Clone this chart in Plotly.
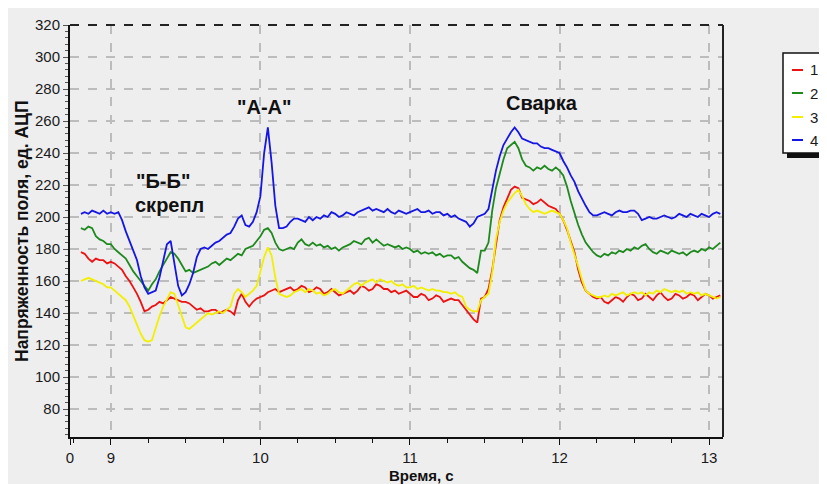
import plotly.graph_objects as go

# ---------------- data (0.025 s apart, 8.800 .. 13.075 s) ----------------
series_names = ["1", "2", "3", "4"]

s1_red = [
    178, 177, 174, 172, 174, 173, 173, 171,
    172, 171, 169, 167, 163, 160, 156, 152,
    147, 141, 142, 144, 145, 147, 146, 148,
    150, 149, 148, 147, 147, 146, 144, 142,
    143, 141, 141, 142, 142, 140, 141, 142,
    141, 139, 148, 152, 147, 144, 147, 149,
    150, 151, 153, 154, 155, 153, 154, 155,
    156, 154, 155, 157, 156, 153, 154, 156,
    155, 152, 153, 155, 153, 151, 152, 153,
    154, 152, 154, 157, 156, 154, 155, 158,
    157, 155, 155, 153, 154, 152, 153, 154,
    152, 150, 150, 152, 151, 148, 149, 151,
    150, 147, 148, 149, 148, 148, 145, 142,
    139, 136, 134, 149, 150, 155, 167, 184,
    198, 206, 212, 217, 219, 218, 212, 211,
    210, 208, 209, 211, 209, 207, 206, 205,
    202, 198, 192, 185, 178, 167, 159, 154,
    152, 150, 149, 150, 147, 146, 148, 150,
    149, 147, 150, 152, 151, 148, 149, 152,
    150, 148, 151, 153, 150, 148, 149, 152,
    151, 149, 150, 152, 151, 148, 150, 152,
    151, 149, 150, 151]

s2_green = [
    193, 192, 194, 193, 188, 186, 185, 183,
    183, 180, 178, 176, 174, 170, 166, 163,
    160, 157, 154, 158, 161, 166, 170, 174,
    178, 177, 174, 170, 166, 167, 165, 166,
    167, 168, 169, 171, 172, 170, 172, 174,
    173, 175, 177, 176, 180, 181, 182, 185,
    188, 192, 193, 190, 184, 180, 179, 180,
    181, 180, 184, 186, 183, 182, 184, 182,
    183, 181, 182, 180, 181, 179, 181, 182,
    183, 185, 184, 183, 186, 187, 184, 186,
    184, 182, 183, 182, 181, 182, 180, 181,
    180, 178, 179, 177, 178, 177, 178, 176,
    177, 175, 176, 176, 174, 175, 172, 170,
    168, 167, 165, 179, 179, 184, 204, 218,
    227, 236, 243, 245, 247, 243, 236, 232,
    231, 229, 231, 230, 232, 230, 229, 231,
    229, 226, 219, 210, 202, 195, 189, 184,
    181, 178, 176, 175, 177, 176, 178, 177,
    179, 178, 180, 179, 181, 180, 182, 183,
    180, 178, 177, 179, 178, 177, 179, 178,
    177, 178, 176, 178, 179, 178, 180, 179,
    181, 180, 182, 184]

s3_yellow = [
    160, 161, 162, 161, 160, 159, 158, 156,
    156, 154, 152, 150, 148, 144, 138, 133,
    127, 123, 122, 123, 131, 138, 144, 149,
    153, 152, 145, 138, 131, 130, 132, 134,
    136, 138, 140, 139, 140, 141, 140, 142,
    144, 152, 155, 153, 150, 152, 154, 157,
    166, 175, 181, 176, 162, 152, 151, 150,
    151, 153, 154, 155, 153, 155, 154, 152,
    153, 151, 152, 154, 155, 153, 152, 154,
    156, 158, 159, 157, 159, 160, 161, 159,
    161, 160, 159, 160, 158, 157, 158, 156,
    156, 157, 155, 156, 155, 154, 155, 154,
    154, 153, 153, 152, 153, 151, 150, 144,
    142, 141, 141, 148, 150, 152, 165, 186,
    197, 204, 209, 212, 215, 217, 213, 208,
    205, 203, 204, 203, 202, 203, 204, 203,
    202, 198, 193, 184, 177, 169, 161, 154,
    152, 151, 150, 150, 151, 150, 152, 151,
    152, 153, 151, 152, 153, 152, 153, 151,
    153, 152, 154, 153, 155, 154, 153, 154,
    153, 154, 152, 153, 152, 153, 151, 152,
    151, 150, 149, 150]

s4_blue = [
    202, 203, 202, 204, 203, 202, 204, 202,
    203, 202, 203, 198, 191, 185, 180, 173,
    163, 156, 152, 153, 154, 162, 172, 183,
    185, 170, 157, 151, 153, 158, 165, 175,
    180, 181, 180, 182, 184, 185, 187, 189,
    190, 194, 199, 201, 195, 194, 197, 203,
    213, 240, 256, 234, 207, 193, 193, 194,
    197, 199, 199, 198, 197, 200, 198, 200,
    199, 201, 200, 203, 202, 200, 201, 203,
    202, 201, 203, 204, 205, 206, 204, 205,
    204, 203, 205, 203, 202, 204, 203, 202,
    203, 204, 205, 203, 203, 204, 202, 203,
    203, 201, 202, 200, 201, 199, 198, 197,
    194, 196, 200, 201, 202, 205, 217, 229,
    238, 245, 249, 253, 256, 253, 249, 248,
    247, 246, 246, 244, 243, 243, 242, 241,
    240, 235, 231, 226, 222, 216, 211, 207,
    203, 201, 201, 202, 203, 202, 201, 203,
    204, 203, 203, 204, 204, 202, 198, 199,
    200, 199, 199, 200, 201, 200, 199, 200,
    202, 201, 200, 202, 201, 200, 202, 201,
    200, 202, 203, 202]

t_start, t_step = 8.8, 0.025
time_s = [round(t_start + t_step * i, 3) for i in range(len(s1_red))]

x_tick_vals = [8.727, 9, 10, 11, 12, 13]
x_tick_text = ["0", "9", "10", "11", "12", "13"]
y_tick_vals = [80, 100, 120, 140, 160, 180, 200, 220, 240, 260, 280, 300, 320]

x_title = "Время, с"
y_title = "Напряженность поля, ед. АЦП"
labels = [('"Б-Б"', 9.35, 181), ("скрепл", 9.39, 205), ('"А-А"', 10.03, 107), ("Сварка", 11.88, 103)]

# ---------------- figure ----------------
OFF = 8  # page body margin offset
W, H = 827 - OFF, 484 - OFF
L, R, T, B = 70 - OFF, 723 - OFF, 25 - OFF, 437 - OFF
FONT = "Arial, Liberation Sans, sans-serif"

def px_x(p):
    return (p - OFF - L) / (R - L)

def px_y(p):
    return (B - (p - OFF)) / (B - T)

colors = ["#ee1111", "#1e8a1e", "#f2ef00", "#1515e6"]
all_series = [s1_red, s2_green, s3_yellow, s4_blue]

fig = go.Figure()
for name, vals, col in zip(series_names, all_series, colors):
    fig.add_trace(go.Scatter(x=time_s[:len(vals)], y=vals, mode="lines", name=name,
                             line=dict(color=col, width=1.8), showlegend=False))

fig.update_layout(
    width=W, height=H,
    margin=dict(l=L, r=W - R, t=T, b=H - B),
    paper_bgcolor="#eeeeee", plot_bgcolor="#eeeeee",
    font=dict(family=FONT, size=15, color="#1a1a1a"),
)
fig.update_xaxes(range=[8.727, 13.093], tickvals=x_tick_vals, ticktext=x_tick_text,
                 showline=True, linecolor="#111", linewidth=2,
                 ticks="outside", ticklen=6, tickcolor="#111", tickwidth=1,
                 minor=dict(dtick=0.25, tick0=9, ticks="outside", ticklen=4, tickcolor="#111", showgrid=False),
                 showgrid=True, gridcolor="#bcbcbc", gridwidth=1.5, griddash="dash",
                 zeroline=False, tickfont=dict(size=15), automargin=False)
fig.update_yaxes(range=[62.5, 320], tickvals=y_tick_vals,
                 showline=True, linecolor="#111", linewidth=2,
                 ticks="outside", ticklen=5, tickcolor="#555", tickwidth=1,
                 minor=dict(dtick=4, tick0=80, ticks="outside", ticklen=3, tickcolor="#555", showgrid=False),
                 showgrid=True, gridcolor="#bcbcbc", gridwidth=1.5, griddash="dash",
                 zeroline=False, tickfont=dict(size=15), automargin=False)

shapes = [
    dict(type="line", xref="paper", yref="paper", x0=0, x1=1, y0=1, y1=1,
         line=dict(color="#222", width=2, dash="dash")),
    dict(type="line", xref="paper", yref="paper", x0=1, x1=1, y0=0, y1=1,
         line=dict(color="#222", width=2)),
    # legend shadow + box
    dict(type="rect", xref="paper", yref="paper", x0=px_x(787), x1=px_x(826), y0=px_y(158), y1=px_y(57),
         fillcolor="#111", line=dict(width=0)),
    dict(type="rect", xref="paper", yref="paper", x0=px_x(783), x1=px_x(822), y0=px_y(153), y1=px_y(53),
         fillcolor="white", line=dict(color="#111", width=1.5)),
]
annotations = []
legend_y = [70, 93, 117, 140]
for name, col, ly in zip(series_names, colors, legend_y):
    shapes.append(dict(type="line", xref="paper", yref="paper", x0=px_x(792), x1=px_x(803),
                       y0=px_y(ly), y1=px_y(ly), line=dict(color=col, width=2)))
    annotations.append(dict(text=name, xref="paper", yref="paper", x=px_x(814), y=px_y(ly),
                            showarrow=False, font=dict(size=15, color="#1a1a1a"), xanchor="center", yanchor="middle"))

for txt, xv, ypx in labels:
    annotations.append(dict(text=f"<b>{txt}</b>", xref="x", yref="paper", x=xv, y=px_y(ypx),
                            showarrow=False, font=dict(size=20, color="#111"), xanchor="center", yanchor="middle"))

annotations.append(dict(text=f"<b>{y_title}</b>", xref="paper", yref="paper", x=px_x(22), y=px_y(232),
                        textangle=-90, showarrow=False, font=dict(size=17.5, color="#111"),
                        xanchor="center", yanchor="middle"))
annotations.append(dict(text=f"<b>{x_title}</b>", xref="paper", yref="paper", x=px_x(421), y=px_y(475),
                        showarrow=False, font=dict(size=15, color="#111"),
                        xanchor="center", yanchor="middle"))

fig.update_layout(shapes=shapes, annotations=annotations)
fig.write_html("out.html")
